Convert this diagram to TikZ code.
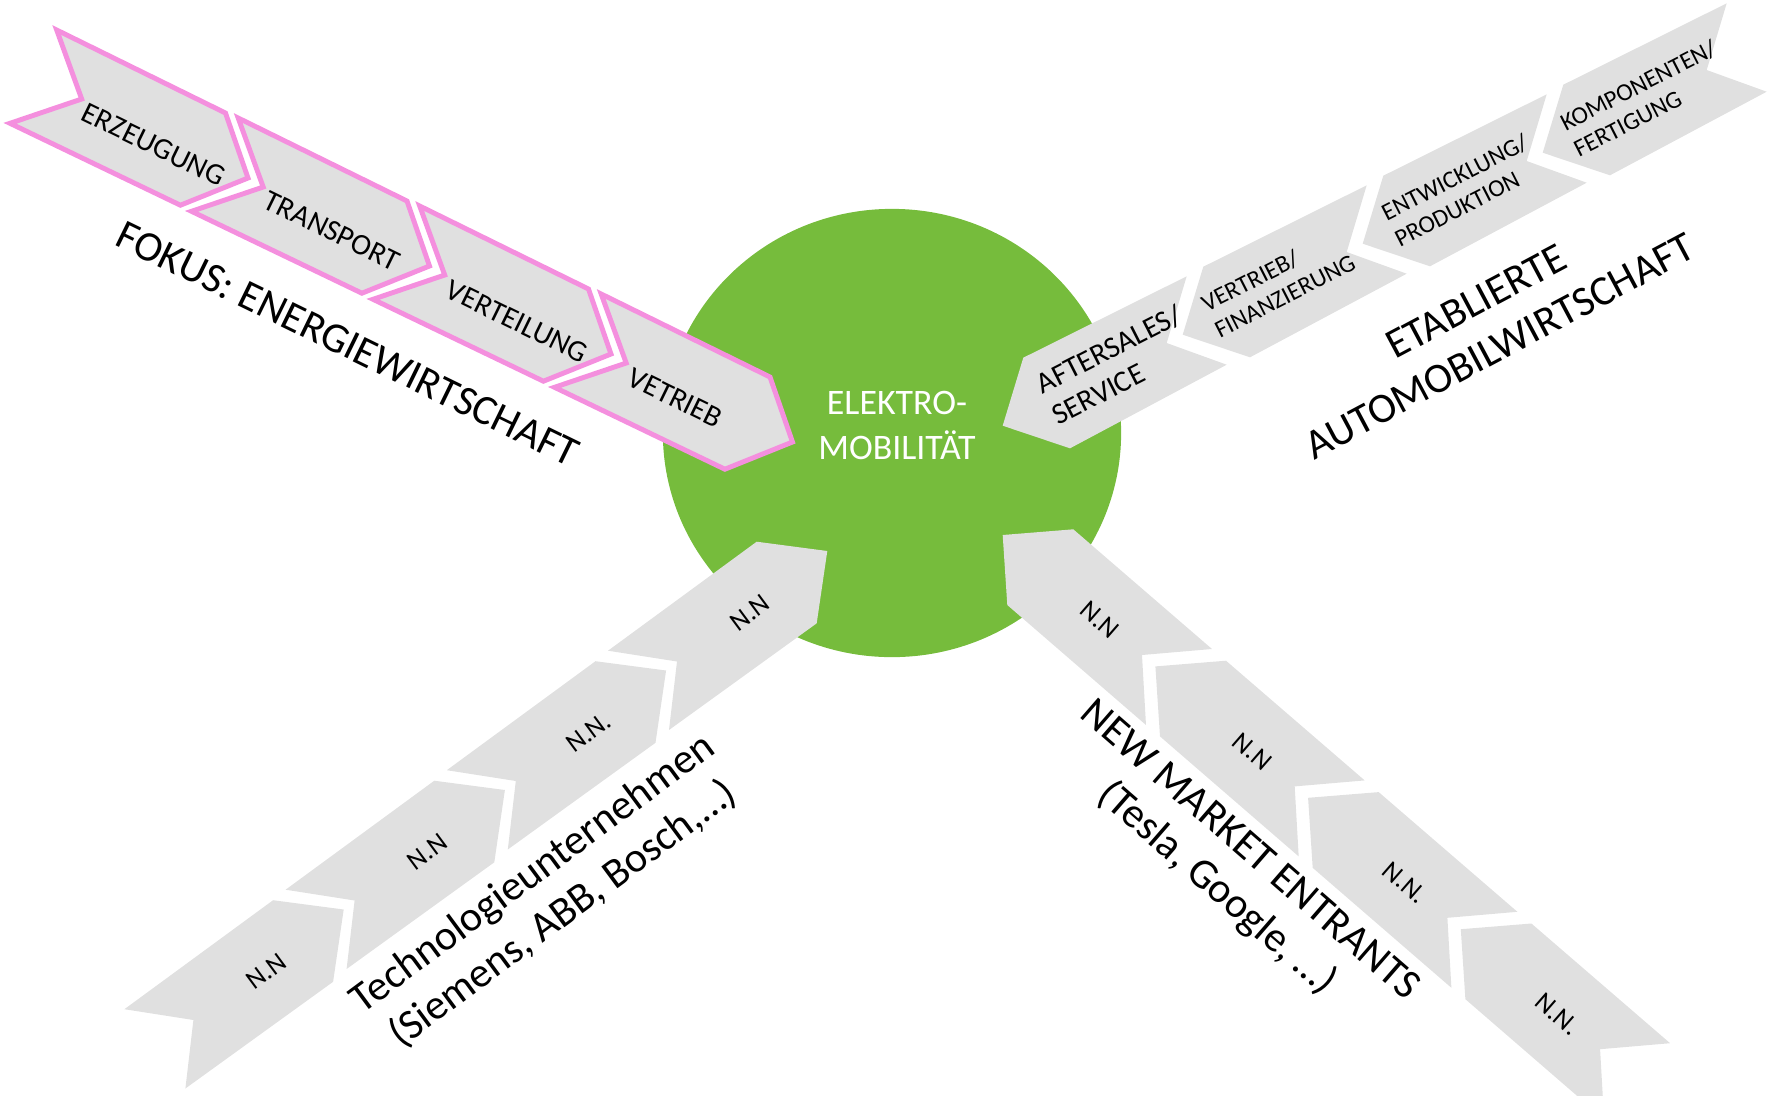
\documentclass[tikz,border=0pt]{standalone}
\usepackage{fontspec}
\setmainfont{Carlito}
\usepackage{tikz}
\definecolor{emgreen}{RGB}{118,188,60}
\definecolor{chevgray}{RGB}{224,224,224}
\definecolor{chevpink}{RGB}{244,143,222}
\def\chevfont{\fontsize{8.5pt}{10pt}\selectfont}
\def\trfont{\fontsize{7pt}{8.3pt}\selectfont}
\def\trbigfont{\fontsize{8.5pt}{10pt}\selectfont}
\def\nnfont{\fontsize{7.7pt}{9pt}\selectfont}
\def\titlefont{\fontsize{12pt}{14.4pt}\selectfont}
\def\hubfont{\fontsize{10.2pt}{12.8pt}\selectfont}
\tikzset{
	pinkchev/.style={fill=chevgray, draw=chevpink, line width=1.4pt, line join=miter},
	graychev/.style={fill=chevgray, draw=none},
	tllabel/.style={rotate=-26, anchor=north west, inner sep=0pt, font=\chevfont},
	trlabel/.style={rotate=27, anchor=north west, inner sep=0pt, align=left, font=\trfont},
	bllabel/.style={rotate=36.5, inner sep=0pt, font=\nnfont},
	brlabel/.style={rotate=-41, inner sep=0pt, font=\nnfont},
	biglabel/.style={inner sep=0pt, align=center, font=\titlefont}
}

\begin{document}
\begin{tikzpicture}[x=0.01cm, y=-0.01cm]
	%%%%% START %%%%%
	\useasboundingbox (0,0) rectangle (1768,1096);
	
	\fill[emgreen] (892,433) ellipse [x radius=2.29cm, y radius=2.24cm];
	\node[white, inner sep=0pt, align=center, font=\hubfont] (hub) at (897,425) {ELEKTRO-\\MOBILIT\"AT};
	
	% energiewirtschaft
	\draw[pinkchev] (56.7,30) -- (225.5,113) -- (248,178) -- (180.4,205.2) -- (10,123.3) -- (81.7,99) -- cycle;
	\draw[pinkchev, shift={(181.5,88)}] (56.7,30) -- (225.5,113) -- (248,178) -- (180.4,205.2) -- (10,123.3) -- (81.7,99) -- cycle;
	\draw[pinkchev, shift={(363,176)}] (56.7,30) -- (225.5,113) -- (248,178) -- (180.4,205.2) -- (10,123.3) -- (81.7,99) -- cycle;
	\draw[pinkchev, shift={(544.5,264)}] (56.7,30) -- (225.5,113) -- (248,178) -- (180.4,205.2) -- (10,123.3) -- (81.7,99) -- cycle;
	
	\node[tllabel] (erzeugung) at (88,101) {ERZEUGUNG};
	\node[tllabel] (transport) at (270,189) {TRANSPORT};
	\node[tllabel] (verteilung) at (452,278) {VERTEILUNG};
	\node[tllabel] (vetrieb) at (634,366) {VETRIEB};
	\node[biglabel, rotate=-26] (fokus) at (348,344) {FOKUS: ENERGIEWIRTSCHAFT};
	
	% automobilwirtschaft
	\fill[graychev] (1002.7,425.7) -- (1023.3,357.7) -- (1186.7,276.3) -- (1166.7,343) -- (1226.7,364.7) -- (1070,448.3) -- cycle;
	\fill[graychev, shift={(180,-91)}] (1002.7,425.7) -- (1023.3,357.7) -- (1186.7,276.3) -- (1166.7,343) -- (1226.7,364.7) -- (1070,448.3) -- cycle;
	\fill[graychev, shift={(360,-182)}] (1002.7,425.7) -- (1023.3,357.7) -- (1186.7,276.3) -- (1166.7,343) -- (1226.7,364.7) -- (1070,448.3) -- cycle;
	\fill[graychev, shift={(540,-273)}] (1002.7,425.7) -- (1023.3,357.7) -- (1186.7,276.3) -- (1166.7,343) -- (1226.7,364.7) -- (1070,448.3) -- cycle;
	
	\node[trlabel, font=\trbigfont] (aftersales) at (1032.4,375.2) {AFTERSALES/\\SERVICE};
	\node[trlabel] (finanzierung) at (1198.1,296.7) {VERTRIEB/\\FINANZIERUNG};
	\node[trlabel] (produktion) at (1378.1,205.7) {ENTWICKLUNG/\\PRODUKTION};
	\node[trlabel] (fertigung) at (1557.1,116) {KOMPONENTEN/\\FERTIGUNG};
	\node[biglabel, rotate=28] (etabliert) at (1488,324) {ETABLIERTE\\AUTOMOBILWIRTSCHAFT};
	
	% technologieunternehmen
	\fill[graychev] (756.7,541.7) -- (827.3,551) -- (816.7,623.3) -- (669,730) -- (677,661.5) -- (608,650.7) -- cycle;
	\fill[graychev, shift={(-161.2,119.5)}] (756.7,541.7) -- (827.3,551) -- (816.7,623.3) -- (669,730) -- (677,661.5) -- (608,650.7) -- cycle;
	\fill[graychev, shift={(-322.4,239)}] (756.7,541.7) -- (827.3,551) -- (816.7,623.3) -- (669,730) -- (677,661.5) -- (608,650.7) -- cycle;
	\fill[graychev, shift={(-483.6,358.5)}] (756.7,541.7) -- (827.3,551) -- (816.7,623.3) -- (669,730) -- (677,661.5) -- (608,650.7) -- cycle;
	
	\node[bllabel] (tech1) at (750,613) {N.N};
	\node[bllabel] (tech2) at (588.8,732.5) {N.N.};
	\node[bllabel] (tech3) at (427.6,852) {N.N};
	\node[bllabel] (tech4) at (266.4,971.5) {N.N};
	\node[biglabel, rotate=36.5] (technologie) at (548,894) {Technologieunternehmen\\(Siemens, ABB, Bosch,\ldots)};
	
	% new market entrants
	\fill[graychev] (1002.7,535) -- (1073.3,529.3) -- (1212,649) -- (1142,655) -- (1146,725) -- (1007.3,605) -- cycle;
	\fill[graychev, shift={(152.7,131.4)}] (1002.7,535) -- (1073.3,529.3) -- (1212,649) -- (1142,655) -- (1146,725) -- (1007.3,605) -- cycle;
	\fill[graychev, shift={(305.4,262.8)}] (1002.7,535) -- (1073.3,529.3) -- (1212,649) -- (1142,655) -- (1146,725) -- (1007.3,605) -- cycle;
	\fill[graychev, shift={(458.1,394.2)}] (1002.7,535) -- (1073.3,529.3) -- (1212,649) -- (1142,655) -- (1146,725) -- (1007.3,605) -- cycle;
	
	\node[brlabel] (entrant1) at (1099.5,620) {N.N};
	\node[brlabel] (entrant2) at (1252.2,751.4) {N.N};
	\node[brlabel] (entrant3) at (1404.9,882.8) {N.N.};
	\node[brlabel] (entrant4) at (1557.6,1014.2) {N.N.};
	\node[biglabel, rotate=-41] (entrants) at (1232.5,870.5) {NEW MARKET ENTRANTS\\(Tesla, Google, \ldots)};
	
	%%%%% END %%%%%
\end{tikzpicture}
\end{document}
